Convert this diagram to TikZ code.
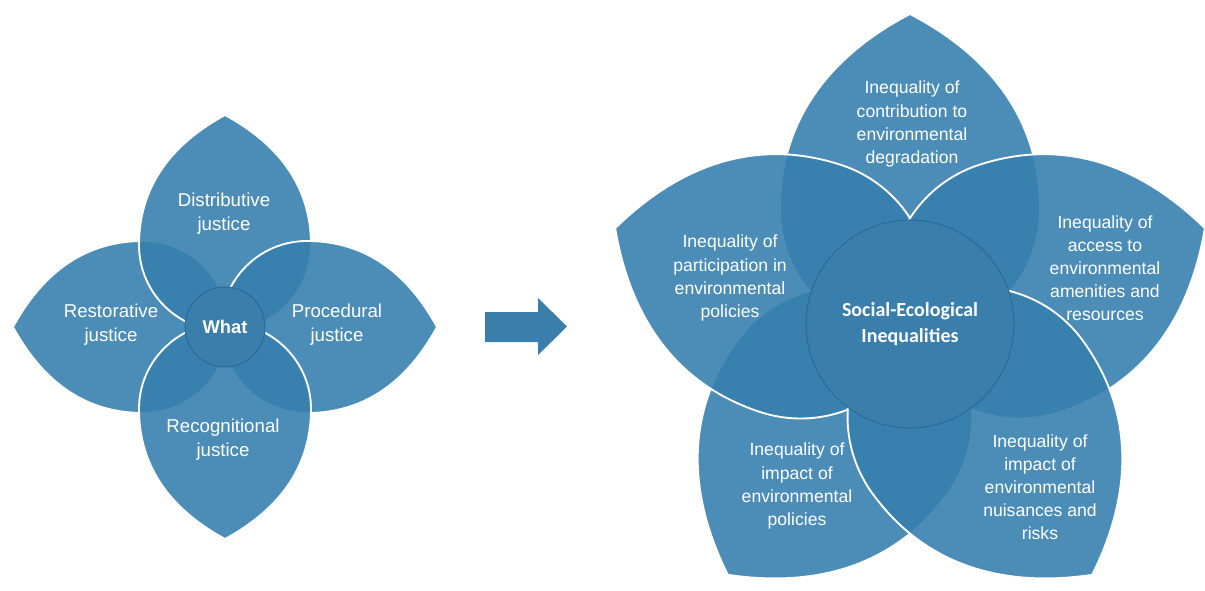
\documentclass[tikz,border=0pt]{standalone}
\usepackage{fontspec}
\setmainfont{Liberation Sans}
\newfontfamily\calib{Carlito}
\definecolor{petalc}{RGB}{54,127,174}
\definecolor{hubc}{RGB}{58,126,171}
\definecolor{hubline}{RGB}{44,107,152}
\definecolor{arrowc}{RGB}{58,127,172}
\tikzset{
  petal/.style={fill=petalc, fill opacity=0.89, draw=white, line width=1.4pt},
  hub/.style={circle, fill=hubc, draw=hubline, line width=0.8pt, inner sep=0pt, text=white, align=center},
  lbl/.style={text=white, align=center, inner sep=0pt, font=\fontsize{14}{18}\selectfont},
  rlbl/.style={text=white, align=center, inner sep=0pt, font=\fontsize{13.2}{17.3}\selectfont},
}
% flower cx, flower cy, offset d, angle, radius r, tip length h
\newcommand\petal[6]{\path[petal, shift={({#1+#3*cos(#4)},{#2+#3*sin(#4)})}, rotate=#4]
  (0,#5) .. controls ({0.8*#5},#5) and ({1.25*#5},{0.48*#5}) .. (#6,0)
  .. controls ({1.25*#5},{-0.48*#5}) and ({0.8*#5},{-#5}) .. (0,{-#5})
  arc[start angle=270, end angle=90, radius=#5] -- cycle;}
\begin{document}
\begin{tikzpicture}[x=0.75pt, y=0.75pt]
\useasboundingbox (0,0) rectangle (1205,590);
% left flower
\petal{225}{263}{82}{180}{86}{130}
\petal{225}{263}{82}{90}{86}{130}
\petal{225}{263}{82}{0}{86}{130}
\petal{225}{263}{82}{270}{86}{130}
\node[hub, minimum size=60pt, font=\bfseries\fontsize{13.8}{16}\selectfont] (what) at (225,263) {What};
\node[lbl] (dist) at (224,376) {Distributive\\justice};
\node[lbl] (rest) at (111,265) {Restorative\\justice};
\node[lbl] (proc) at (337,265) {Procedural\\justice};
\node[lbl] (reco) at (223,150) {Recognitional\\justice};
% arrow
\path[fill=arrowc] (485,278) -- (538,278) -- (538,292) -- (567,263.5) -- (538,235) -- (538,248) -- (485,248) -- cycle;
% right flower
\petal{910}{266}{115}{90}{130}{195}
\petal{910}{266}{115}{234}{130}{195}
\petal{910}{266}{115}{162}{130}{195}
\petal{910}{266}{115}{18}{130}{195}
\petal{910}{266}{115}{306}{130}{195}
\node[hub, minimum size=156pt, font=\calib\bfseries\fontsize{15}{19.5}\selectfont] (sei) at (910,266) {Social-Ecological\\Inequalities};
\node[rlbl] (contrib) at (912,466) {Inequality of\\contribution to\\environmental\\degradation};
\node[rlbl] (partic) at (730,312) {Inequality of\\participation in\\environmental\\policies};
\node[rlbl] (access) at (1105,322) {Inequality of\\access to\\environmental\\amenities and\\resources};
\node[rlbl] (impol) at (797,104) {Inequality of\\impact of\\environmental\\policies};
\node[rlbl] (imnuis) at (1040,103) {Inequality of\\impact of\\environmental\\nuisances and\\risks};
\end{tikzpicture}
\end{document}
